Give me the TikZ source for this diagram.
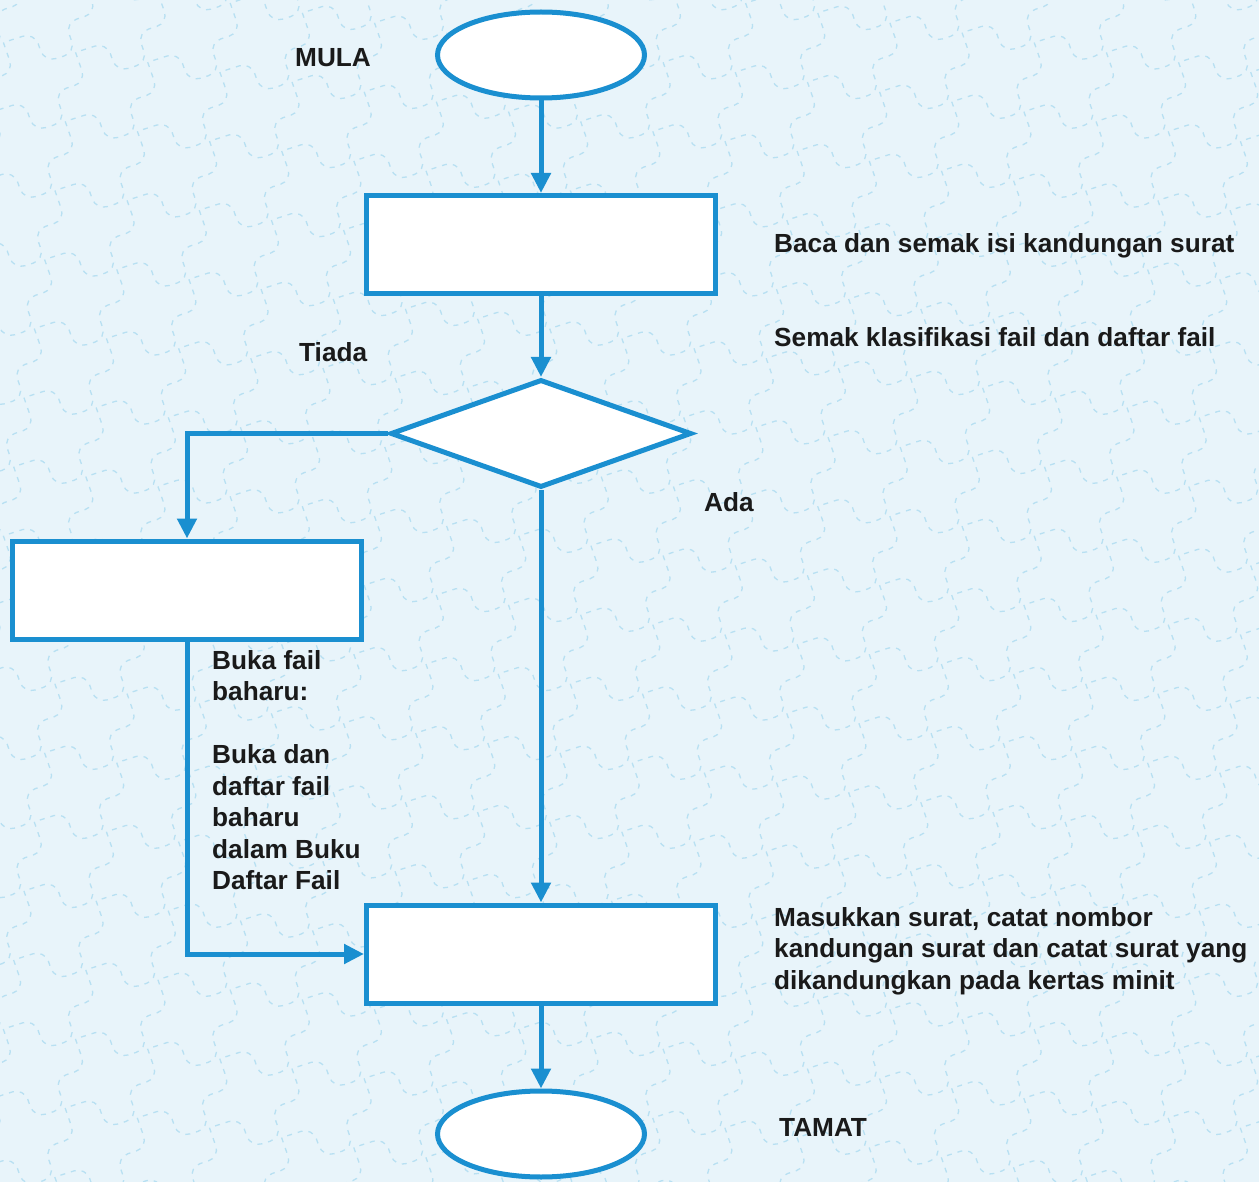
\documentclass[tikz,border=0pt]{standalone}
\usepackage{fontspec}
\setmainfont{Liberation Sans}
\usetikzlibrary{shapes.geometric,arrows.meta,positioning}
\definecolor{bg}{HTML}{E8F4FA}
\definecolor{pat}{HTML}{B8E0F2}
\definecolor{ln}{HTML}{1A8FD0}
\definecolor{tx}{HTML}{1A1A1A}
\begin{document}
\begin{tikzpicture}[x=1pt,y=-1pt,
  flow/.style={draw=ln,line width=5pt,fill=white},
  conn/.style={draw=ln,line width=5pt,-{Triangle[length=20pt,width=19pt]}},
  tile/.style={draw=pat,line width=1.3pt,dash pattern=on 5pt off 6pt,rounded corners=12pt},
  lbl/.style={text=tx,font=\fontsize{26.2}{31.5}\selectfont\bfseries,anchor=west,inner sep=0pt,align=left}]
\fill[bg] (0,0) rectangle (1259,1182);
\useasboundingbox (0,0) rectangle (1259,1182);
% background pattern
\begin{scope}
\clip (0,0) rectangle (1259,1182);
\begin{scope}[shift={(24,3)},xscale=32.6,yscale=31.2,rotate=18.43]
\foreach \i in {-5,...,29}{
  \foreach \j in {-17,...,17}{
    \pgfmathsetmacro{\cx}{2*\i-\j}
    \pgfmathsetmacro{\cy}{\i+2*\j}
    \draw[tile,shift={(\cx+0.5,\cy+0.5)}] (1.5,-0.5) -- (1.5,0.5) -- (0.5,0.5) -- (0.5,1.5) -- (-0.5,1.5) -- (-0.5,0.5) -- (-1.5,0.5);
  }
}
\end{scope}
\end{scope}
% shapes
\node[flow,ellipse,minimum width=207pt,minimum height=86pt,inner sep=0pt] (start) at (541,55) {};
\node[flow,rectangle,minimum width=349pt,minimum height=98pt,inner sep=0pt] (baca) at (541,244.5) {};
\node[flow,diamond,minimum width=301pt,minimum height=108pt,inner sep=0pt,aspect=2.8] (dec) at (541,433.5) {};
\node[flow,rectangle,minimum width=349pt,minimum height=98pt,inner sep=0pt] (buka) at (187,590) {};
\node[flow,rectangle,minimum width=349pt,minimum height=98pt,inner sep=0pt] (masuk) at (541,954) {};
\node[flow,ellipse,minimum width=207pt,minimum height=86pt,inner sep=0pt] (end) at (541,1134) {};
% connectors
\draw[conn] (start.south) -- (start.south |- baca.north);
\draw[conn] (baca.south) -- (dec.north);
\draw[conn] (dec.west) -| (buka.north);
\draw[conn] (dec.south) -- (masuk.north);
\draw[conn] (buka.south) |- (masuk.west);
\draw[conn] (masuk.south) -- (end.north);
% labels
\node[lbl] (lmula) at (295,58) {MULA};
\node[lbl] (lbaca) at (774,246) {Baca dan semak isi kandungan surat};
\node[lbl] (lsemak) at (774,337) {Semak klasifikasi fail dan daftar fail};
\node[lbl] (ltiada) at (299,352) {Tiada};
\node[lbl] (lada) at (704,502) {Ada};
\node[lbl,anchor=north west] (lbuka) at (212,650) {Buka fail\\baharu:\\[31.5pt]Buka dan\\daftar fail\\baharu\\dalam Buku\\Daftar Fail};
\node[lbl,anchor=north west] (lmasuk) at (774,907) {Masukkan surat, catat nombor\\kandungan surat dan catat surat yang\\dikandungkan pada kertas minit};
\node[lbl] (ltamat) at (779,1127) {TAMAT};
\end{tikzpicture}
\end{document}
